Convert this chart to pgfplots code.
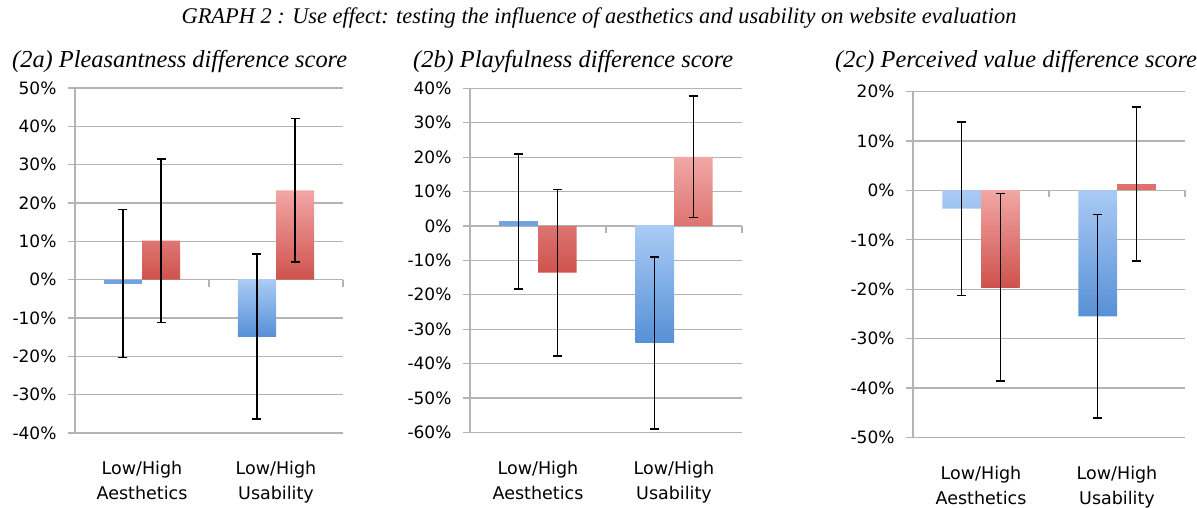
\documentclass[border=0pt]{standalone}
\usepackage{pgfplots}
\pgfplotsset{compat=1.18}
\usepackage{fontspec}
\setmainfont{Liberation Serif}
\newfontfamily\dejavu{DejaVu Sans}
\definecolor{gridgray}{HTML}{B4B4B4}
\definecolor{bluelight}{HTML}{AACBF5}
\definecolor{bluedark}{HTML}{5690D6}
\definecolor{bluemid}{HTML}{72A2E2}
\definecolor{redlight}{HTML}{F2A7A6}
\definecolor{reddark}{HTML}{CE524C}
\definecolor{redmid}{HTML}{E2706A}
\pgfplotsset{
  panel/.style={
    scale only axis, anchor=north west,
    xmin=-0.5, xmax=1.5, xtick={0,1},
    xticklabels={Low/High\\Aesthetics, Low/High\\Usability},
    xticklabel style={align=center, font=\fontsize{17.5}{25}\selectfont\dejavu, yshift=-18pt},
    yticklabel style={font=\fontsize{17}{20}\selectfont\dejavu, xshift=-8pt},
    ymajorgrids, grid style={gridgray, line width=1.2pt},
    axis line style={draw=none},
    ytick pos=left, tick align=outside, major tick length=7pt,
    ytick style={gridgray, line width=1.2pt},
    xtick style={draw=none},
    clip=false,
  },
  ebar/.style={error bars/.cd, y dir=both, y explicit,
     error bar style={draw=black, line width=1.4pt},
     error mark options={draw=black, rotate=90, mark size=4.5pt, line width=1.4pt}},
  bluebar/.style={ybar, bar width=0.284, bar shift=0, draw=none,
     top color=bluelight, bottom color=bluedark, ebar},
  redbar/.style={ybar, bar width=0.284, bar shift=0, draw=none,
     top color=redlight, bottom color=reddark, ebar},
  bluethin/.style={ybar, bar width=0.284, bar shift=0, draw=none, fill=bluemid, ebar},
  redthin/.style={ybar, bar width=0.284, bar shift=0, draw=none, fill=redmid, ebar},
}
\newcommand{\panelframe}{%
  \draw[gridgray, line width=1.2pt] (rel axis cs:0,0) -- (rel axis cs:0,1);
  \draw[gridgray, line width=1.2pt] (axis cs:0.5,0) -- ([yshift=-7pt]axis cs:0.5,0);
  \draw[gridgray, line width=1.2pt] (axis cs:1.5,0) -- ([yshift=-7pt]axis cs:1.5,0);
}
\begin{document}
\begin{tikzpicture}
\path[use as bounding box] (0,0) rectangle (1197pt,-507pt);
\node[font=\fontsize{22.4}{26}\selectfont\itshape] at (599pt,-18pt)
  {GRAPH 2 : Use effect: testing the influence of aesthetics and usability on website evaluation};
\node[anchor=west, inner sep=0pt, font=\fontsize{24.4}{28}\selectfont\itshape] at (12pt,-62pt) {(2a) Pleasantness difference score};
\node[anchor=west, inner sep=0pt, font=\fontsize{24.4}{28}\selectfont\itshape] at (413pt,-62pt) {(2b) Playfulness difference score};
\node[anchor=west, inner sep=0pt, font=\fontsize{24.4}{28}\selectfont\itshape] at (835pt,-62pt) {(2c) Perceived value difference score};

% Panel a
\begin{axis}[panel, at={(75pt,-88pt)}, width=268pt, height=345pt,
  ymin=-40, ymax=50, ytick={-40,-30,...,50},
  yticklabels={-40\%,-30\%,-20\%,-10\%,0\%,10\%,20\%,30\%,40\%,50\%}]
\panelframe
\addplot[bluethin] coordinates {(-0.142,-1) +- (0,19.3)};
\addplot[bluebar] coordinates {(0.858,-14.8) +- (0,21.5)};
\addplot[redbar] coordinates {(0.142,10.2) +- (0,21.3) (1.142,23.3) +- (0,18.7)};
\end{axis}

% Panel b
\begin{axis}[panel, at={(470pt,-88.3pt)}, width=272pt, height=344pt,
  ymin=-60, ymax=40, ytick={-60,-50,...,40},
  yticklabels={-60\%,-50\%,-40\%,-30\%,-20\%,-10\%,0\%,10\%,20\%,30\%,40\%}]
\panelframe
\addplot[bluethin] coordinates {(-0.142,1.3) +- (0,19.6)};
\addplot[bluebar] coordinates {(0.858,-34) +- (0,25)};
\addplot[redbar] coordinates {(0.142,-13.6) +- (0,24.2) (1.142,20.1) +- (0,17.7)};
\end{axis}

% Panel c
\begin{axis}[panel, at={(913pt,-91.7pt)}, width=272pt, height=345.6pt,
  ymin=-50, ymax=20, ytick={-50,-40,...,20},
  yticklabels={-50\%,-40\%,-30\%,-20\%,-10\%,0\%,10\%,20\%}]
\panelframe
\addplot[bluebar] coordinates {(-0.142,-3.7) +- (0,17.6) (0.858,-25.5) +- (0,20.6)};
\addplot[redbar] coordinates {(0.142,-19.6) +- (0,19)};
\addplot[redthin] coordinates {(1.142,1.3) +- (0,15.6)};
\end{axis}
\end{tikzpicture}
\end{document}
